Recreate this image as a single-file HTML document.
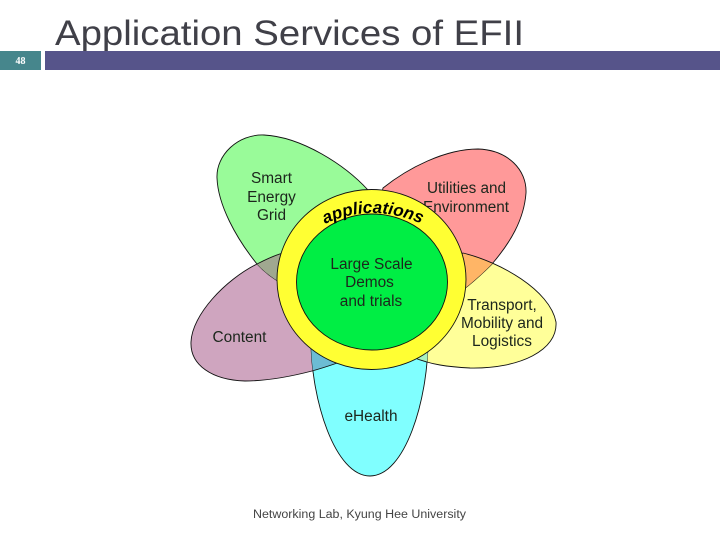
<!DOCTYPE html>
<html>
<head>
<meta charset="utf-8">
<style>
html,body{margin:0;padding:0;background:#fff;width:720px;height:540px;overflow:hidden}
svg{display:block}
text{font-family:"Liberation Sans",sans-serif}
.l{font-size:15.4px;fill:#1c261c;text-anchor:middle}
</style>
</head>
<body>
<svg width="720" height="540" viewBox="0 0 720 540" xmlns="http://www.w3.org/2000/svg">
<defs>
<path id="g" d="M217 178C216 155 238 134 264 135C302 137 345 165 368 190L372 290C340 300 290 300 257 264C236 238 218 205 217 178Z"/>
<path id="r" d="M383 188C408 168 445 149 478 149C508 150 527 170 526 193C524 220 510 243 492 264C478 278 462 292 445 302L370 250Z"/>
<path id="y" d="M463 253C500 262 550 290 556 322C558 350 520 369 470 368C450 367 430 365 410 356L420 280Z"/>
<path id="c" d="M191 342C192 315 225 280 257 264C280 252 300 246 320 250L400 340C370 350 345 362 312 371C285 378 262 381 245 381C212 380 190 365 191 342Z"/>
<path id="e" d="M311 340C311 400 335 476 370 476C405 476 428 400 428 340Z"/>
<clipPath id="cg"><use href="#g"/></clipPath>
<clipPath id="cr"><use href="#r"/></clipPath>
<clipPath id="ce"><use href="#e"/></clipPath>
<path id="arc" d="M325 224Q371 202 422 224"/>
</defs>

<text x="55" y="45" font-size="35" fill="#404048" textLength="469" lengthAdjust="spacingAndGlyphs">Application Services of EFII</text>
<rect x="0" y="51" width="41" height="19" fill="#46868c"/>
<rect x="45" y="51" width="675" height="19" fill="#56548a"/>
<text x="20.5" y="64" font-size="10" font-weight="bold" fill="#fff" text-anchor="middle" style="font-family:'Liberation Serif',serif">48</text>

<g stroke="#111" stroke-width="0.9">
<use href="#c" fill="#cfa5bf"/>
<use href="#g" fill="#99fb99"/>
<use href="#c" fill="#a0a890" clip-path="url(#cg)"/>
<use href="#y" fill="#ffff99"/>
<use href="#r" fill="#ff9999"/>
<use href="#y" fill="#ffb566" clip-path="url(#cr)"/>
<use href="#e" fill="#80ffff"/>
<use href="#c" fill="#6cbcd4" clip-path="url(#ce)"/>
<use href="#y" fill="#a8f2c0" clip-path="url(#ce)"/>
</g>

<text class="l" x="466.500" y="193" textLength="79" lengthAdjust="spacingAndGlyphs">Utilities and</text>
<text class="l" x="466" y="212" textLength="86" lengthAdjust="spacingAndGlyphs">Environment</text>

<g stroke="#111" stroke-width="0.9">
<ellipse cx="371.500" cy="279.500" rx="94.500" ry="90" fill="#ffff33"/>
<ellipse cx="372" cy="282" rx="75.500" ry="68" fill="#00ee44"/>
</g>

<text class="l" x="271.500" y="183">Smart</text>
<text class="l" x="271.500" y="202">Energy</text>
<text class="l" x="271.500" y="220">Grid</text>
<text class="l" x="502" y="310">Transport,</text>
<text class="l" x="502" y="328">Mobility and</text>
<text class="l" x="502" y="346">Logistics</text>
<text class="l" x="239.500" y="342">Content</text>
<text class="l" x="371" y="421">eHealth</text>
<text class="l" x="371.500" y="269">Large Scale</text>
<text class="l" x="369.500" y="287">Demos</text>
<text class="l" x="371" y="306">and trials</text>
<text font-size="17" font-weight="bold" font-style="italic" fill="#000"><textPath href="#arc" startOffset="0">applications</textPath></text>

<text x="253" y="518" font-size="11.500" fill="#444" textLength="213" lengthAdjust="spacingAndGlyphs">Networking Lab, Kyung Hee University</text>
</svg>
</body>
</html>
